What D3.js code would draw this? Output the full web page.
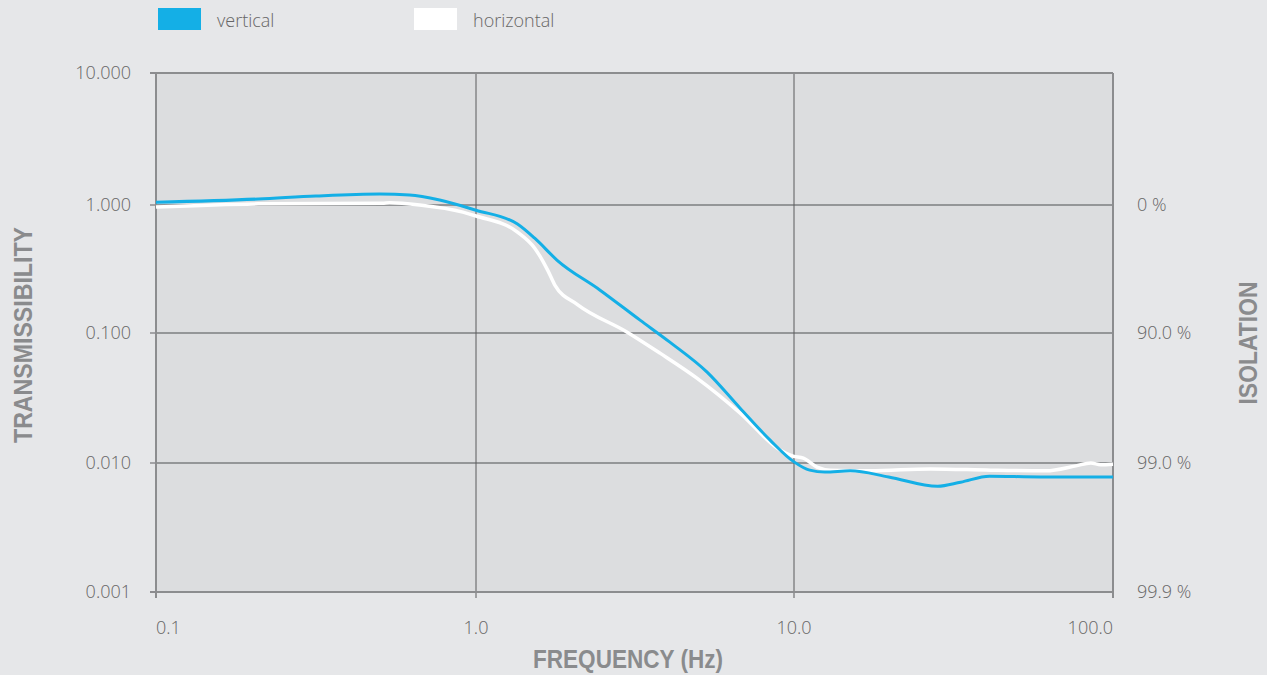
<!DOCTYPE html>
<html>
<head>
<meta charset="utf-8">
<script src="https://cdn.jsdelivr.net/npm/d3@7"></script>
<style>
  html, body { margin: 0; padding: 0; background: #e6e7e9; }
  svg { display: block; }
  .tick-label { font-family: "Open Sans", sans-serif; font-weight: 300; font-size: 18px; fill: #666; }
  .title { font-family: "Liberation Sans Narrow", "Liberation Sans", sans-serif; font-weight: bold; font-size: 26px; fill: #8a8b8d; }
</style>
</head>
<body>
<svg width="1267" height="675"></svg>
<script>
// frequency in Hz, transmissibility
const freqVertical = [0.1, 0.209, 0.316, 0.50, 0.62, 0.77, 1.0, 1.35, 1.53, 1.80, 2.45, 3.28, 4.07, 5.33, 6.76, 8.41, 10.0, 11.2, 12.5, 15.0, 19.8, 28.2, 33.3, 41.0, 59.2, 100]
const transVertical = [1.05, 1.11, 1.17, 1.21, 1.19, 1.09, 0.91, 0.71, 0.55, 0.37, 0.217, 0.126, 0.085, 0.050, 0.0265, 0.0150, 0.0102, 0.0088, 0.0085, 0.0087, 0.0078, 0.0066, 0.0071, 0.0079, 0.0078, 0.0078]

const freqHorizontal = [0.1, 0.209, 0.51, 0.537, 0.667, 0.91, 1.0, 1.35, 1.53, 1.68, 1.77, 2.09, 2.98, 3.79, 4.95, 6.76, 9.03, 9.93, 10.7, 11.8, 13.0, 17.3, 26.8, 41.4, 61.7, 76.5, 85.2, 91.5, 100]
const transHorizontal = [0.965, 1.02, 1.03, 1.04, 1.0, 0.88, 0.82, 0.615, 0.46, 0.31, 0.237, 0.166, 0.102, 0.070, 0.045, 0.0243, 0.0126, 0.0113, 0.0109, 0.0093, 0.0088, 0.0087, 0.0090, 0.0088, 0.0087, 0.0095, 0.0100, 0.0097, 0.0098]

const xTicks = [0.1, 1, 10, 100]
const xTickLabels = ["0.1", "1.0", "10.0", "100.0"]
const yTicks = [10, 1, 0.1, 0.01, 0.001]
const yTickLabels = ["10.000", "1.000", "0.100", "0.010", "0.001"]
const isoTicks = [1, 0.1, 0.01, 0.001]
const isoTickLabels = ["0 %", "90.0 %", "99.0 %", "99.9 %"]

const seriesNames = ["vertical", "horizontal"]
const seriesColors = ["#14afe6", "#ffffff"]

const svg = d3.select("svg")
const plotLeft = 156, plotRight = 1113, plotTop = 73, plotBottom = 592

// the decades in the picture are not quite even, so the scales are piecewise log
const x = d3.scaleLog().domain([0.1, 1, 10, 100]).range([plotLeft, 476, 794, plotRight])
const y = d3.scaleLog().domain([0.001, 0.01, 0.1, 1, 10]).range([plotBottom, 463, 333, 205, plotTop])

// plot area
svg.append("rect")
    .attr("x", plotLeft).attr("y", plotTop)
    .attr("width", plotRight - plotLeft).attr("height", plotBottom - plotTop)
    .attr("fill", "#dcdddf")

// grid
svg.append("g").selectAll("line")
    .data([1, 0.1, 0.01])
    .enter().append("line")
    .attr("x1", plotLeft).attr("x2", plotRight)
    .attr("y1", d => y(d)).attr("y2", d => y(d))
    .attr("stroke", "#7d7e80").attr("stroke-width", 1.5)

svg.append("g").selectAll("line")
    .data([1, 10])
    .enter().append("line")
    .attr("x1", d => x(d)).attr("x2", d => x(d))
    .attr("y1", plotTop).attr("y2", plotBottom + 6)
    .attr("stroke", "#5a5b5d").attr("stroke-width", 1)

// frame
const frame = svg.append("g").attr("stroke", "#8c8d8f").attr("stroke-width", 2)
frame.append("line").attr("x1", plotLeft - 6).attr("x2", plotRight).attr("y1", plotTop).attr("y2", plotTop)
frame.append("line").attr("x1", plotRight).attr("x2", plotRight).attr("y1", plotTop).attr("y2", plotBottom + 6)
frame.append("line").attr("x1", plotLeft).attr("x2", plotLeft).attr("y1", plotTop).attr("y2", plotBottom + 6)
frame.append("line").attr("x1", plotLeft - 6).attr("x2", plotRight).attr("y1", plotBottom).attr("y2", plotBottom)
frame.selectAll(".yt").data(yTicks).enter().append("line")
    .attr("x1", plotLeft - 6).attr("x2", plotLeft)
    .attr("y1", d => y(d)).attr("y2", d => y(d))
    .attr("stroke-width", 1.5)

// lines
const line = d3.line()
    .x(d => x(d[0]))
    .y(d => y(d[1]))
    .curve(d3.curveMonotoneX)

svg.append("path")
    .datum(d3.zip(freqHorizontal, transHorizontal))
    .attr("d", line)
    .attr("fill", "none")
    .attr("stroke", seriesColors[1])
    .attr("stroke-width", 3.5)

svg.append("path")
    .datum(d3.zip(freqVertical, transVertical))
    .attr("d", line)
    .attr("fill", "none")
    .attr("stroke", seriesColors[0])
    .attr("stroke-width", 3)

// tick labels
svg.append("g").selectAll("text")
    .data(yTicks)
    .enter().append("text")
    .attr("class", "tick-label")
    .attr("x", 131)
    .attr("y", d => y(d))
    .attr("dy", "0.35em")
    .attr("text-anchor", "end")
    .text((d, i) => yTickLabels[i])

svg.append("g").selectAll("text")
    .data(isoTicks)
    .enter().append("text")
    .attr("class", "tick-label")
    .attr("x", 1137)
    .attr("y", d => y(d))
    .attr("dy", "0.35em")
    .text((d, i) => isoTickLabels[i])

svg.append("g").selectAll("text")
    .data(xTicks)
    .enter().append("text")
    .attr("class", "tick-label")
    .attr("x", d => x(d))
    .attr("y", 634)
    .attr("text-anchor", (d, i) => i == 0 ? "start" : (i == xTicks.length - 1 ? "end" : "middle"))
    .text((d, i) => xTickLabels[i])

// titles
svg.append("text")
    .attr("class", "title")
    .attr("transform", "translate(32,335) rotate(-90)")
    .attr("text-anchor", "middle")
    .attr("textLength", 216).attr("lengthAdjust", "spacingAndGlyphs")
    .text("TRANSMISSIBILITY")

svg.append("text")
    .attr("class", "title")
    .attr("transform", "translate(1257,343) rotate(-90)")
    .attr("text-anchor", "middle")
    .attr("textLength", 123).attr("lengthAdjust", "spacingAndGlyphs")
    .text("ISOLATION")

svg.append("text")
    .attr("class", "title")
    .attr("x", 628).attr("y", 668)
    .attr("text-anchor", "middle")
    .attr("textLength", 190).attr("lengthAdjust", "spacingAndGlyphs")
    .text("FREQUENCY (Hz)")

// legend
const legendX = [158, 414]
const legend = svg.append("g").selectAll("g")
    .data(seriesNames)
    .enter().append("g")
    .attr("transform", (d, i) => `translate(${legendX[i]},8)`)
legend.append("rect")
    .attr("width", 43).attr("height", 22)
    .attr("fill", (d, i) => seriesColors[i])
legend.append("text")
    .attr("class", "tick-label")
    .attr("x", 59).attr("y", 19)
    .attr("font-size", "19px")
    .text(d => d)
</script>
</body>
</html>
